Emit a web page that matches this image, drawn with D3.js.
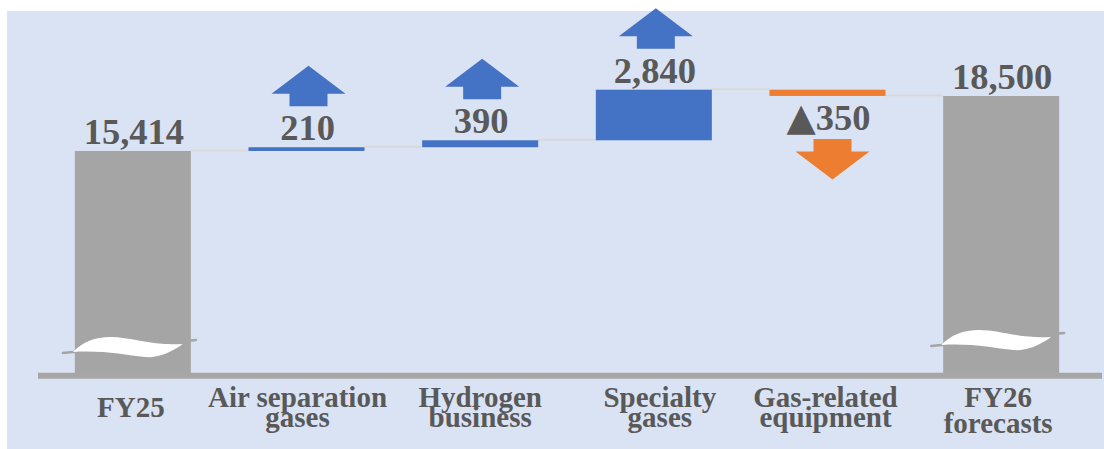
<!DOCTYPE html>
<html>
<head>
<meta charset="utf-8">
<script src="https://cdn.jsdelivr.net/npm/d3@7"></script>
<style>
  html, body { margin: 0; padding: 0; background: #ffffff; }
  svg { display: block; }
  text { font-family: "Liberation Serif", "Times New Roman", serif; font-weight: bold; fill: #595959; }
</style>
</head>
<body>
<svg id="chart" width="1104" height="449"></svg>
<script>
// ---- data ----
const categories = ["FY25", "Air separation gases", "Hydrogen business", "Specialty gases", "Gas-related equipment", "FY26 forecasts"];
const labelLines = [["FY25"], ["Air separation", "gases"], ["Hydrogen", "business"], ["Specialty", "gases"], ["Gas-related", "equipment"], ["FY26", "forecasts"]];
const values = [15414, 210, 390, 2840, -350, 18500];
const kinds = ["total", "up", "up", "up", "down", "total"];
const valueLabels = ["15,414", "210", "390", "2,840", "▲350", "18,500"];
const axisBreakValue = 2950; // value at the (broken) baseline

// ---- layout / style ----
const W = 1104, H = 449;
const C = { panel: "#dae3f3", total: "#a5a5a5", up: "#4472c4", down: "#ed7d31", conn: "#d9d9d9", axis: "#a6a6a6", text: "#595959" };
const labelNudge = [-2, -9, 0, 6, -2, -3];
const breakLift = [27, 0, 0, 0, 0, 34];

const svg = d3.select("#chart");
svg.append("rect").attr("x", 7).attr("y", 11).attr("width", W - 7).attr("height", H - 11).attr("fill", C.panel);

const x = d3.scaleBand().domain(categories).range([46, 1088]).paddingInner(0.332).paddingOuter(0.166);
const y = d3.scaleLinear().domain([axisBreakValue, 18500]).range([373, 96]);
const bw = x.bandwidth();

// compute waterfall
let cum = 0;
const rows = categories.map((c, i) => {
  let start, end;
  if (kinds[i] === "total") { start = axisBreakValue; end = values[i]; cum = values[i]; }
  else { start = cum; end = cum + values[i]; cum = end; }
  return { c, i, start, end, level: cum, kind: kinds[i] };
});

// connectors
const g = svg.append("g");
rows.slice(0, -1).forEach((r, i) => {
  const nx = rows[i + 1];
  g.append("line")
    .attr("x1", x(r.c) + bw).attr("x2", x(nx.c))
    .attr("y1", y(r.level) - 0.5).attr("y2", y(r.level) - 0.5)
    .attr("stroke", C.conn).attr("stroke-width", 2);
});

// bars
g.selectAll("rect.bar").data(rows).join("rect")
  .attr("class", "bar")
  .attr("x", d => x(d.c))
  .attr("width", bw)
  .attr("y", d => y(Math.max(d.start, d.end)))
  .attr("height", d => Math.abs(y(d.start) - y(d.end)) + (d.kind === "total" ? 3 : 0))
  .attr("fill", d => C[d.kind]);

// axis break marks on total bars
rows.filter(d => d.kind === "total").forEach(d => {
  const yb = y(axisBreakValue) - breakLift[d.i];
  const x0 = x(d.c);
  g.append("line")
    .attr("x1", x0 - 12).attr("y1", yb + 7)
    .attr("x2", x0 + bw + 5).attr("y2", yb - 6)
    .attr("stroke", C.total).attr("stroke-width", 2.5).attr("stroke-linecap", "round");
  const sx = (bw - 6) / 110;
  const lens = "M0,0 C10,-10 22,-15 38,-15 C58,-15 80,-6 110,-8 C96,2 84,6 72,5 C52,3 30,-2 0,0 Z";
  g.append("path")
    .attr("d", lens)
    .attr("transform", `translate(${x0 - 2},${yb + 6}) scale(${sx},1)`)
    .attr("fill", "#ffffff");
});

// baseline axis
g.append("line").attr("x1", 38).attr("x2", 1102)
  .attr("y1", y(axisBreakValue) + 2.8).attr("y2", y(axisBreakValue) + 2.8)
  .attr("stroke", C.axis).attr("stroke-width", 6);

// value labels
rows.forEach(d => {
  const cx = x(d.c) + bw / 2;
  const top = y(Math.max(d.start, d.end));
  const bottom = y(Math.min(d.start, d.end));
  const t = g.append("text").attr("x", cx + 1).attr("text-anchor", "middle").attr("font-size", "36.5px");
  if (d.kind === "down") {
    t.attr("y", bottom + 34);
    t.append("tspan").attr("font-family", "DejaVu Sans").attr("font-size", "38px").text(valueLabels[d.i].slice(0, 1));
    t.append("tspan").text(valueLabels[d.i].slice(1));
  } else {
    t.attr("y", top - 7).text(valueLabels[d.i]);
  }
});

// arrows
function arrowPath(dir) {
  // up arrow with bottom at (0,0); down arrow with top at (0,0)
  const hw = 37, sw = 19, sh = 12.5, hh = 28;
  if (dir === "up") {
    return `M${-sw},0 L${sw},0 L${sw},${-sh} L${hw},${-sh} L0,${-sh - hh} L${-hw},${-sh} L${-sw},${-sh} Z`;
  }
  return `M${-sw},0 L${sw},0 L${sw},${sh} L${hw},${sh} L0,${sh + hh} L${-hw},${sh} L${-sw},${sh} Z`;
}
rows.filter(d => d.kind !== "total").forEach(d => {
  const cx = x(d.c) + bw / 2 + 2;
  if (d.kind === "up") {
    const top = y(d.end);
    g.append("path").attr("d", arrowPath("up")).attr("transform", `translate(${cx},${top - 41})`).attr("fill", C.up);
  } else {
    const bottom = y(d.end);
    g.append("path").attr("d", arrowPath("down")).attr("transform", `translate(${cx + 3},${bottom + 43})`).attr("fill", C.down);
  }
});

// category labels
rows.forEach(d => {
  const lines = labelLines[d.i];
  const cx = x(d.c) + bw / 2 + labelNudge[d.i];
  const t = g.append("text").attr("text-anchor", "middle").attr("font-size", "29px");
  if (lines.length === 1) {
    t.append("tspan").attr("x", cx).attr("y", 416.5).text(lines[0]);
  } else {
    const gap = d.i === categories.length - 1 ? 26 : 20;
    lines.forEach((ln, k) => {
      t.append("tspan").attr("x", cx).attr("y", 406.5 + k * gap).text(ln);
    });
  }
});
</script>
</body>
</html>
